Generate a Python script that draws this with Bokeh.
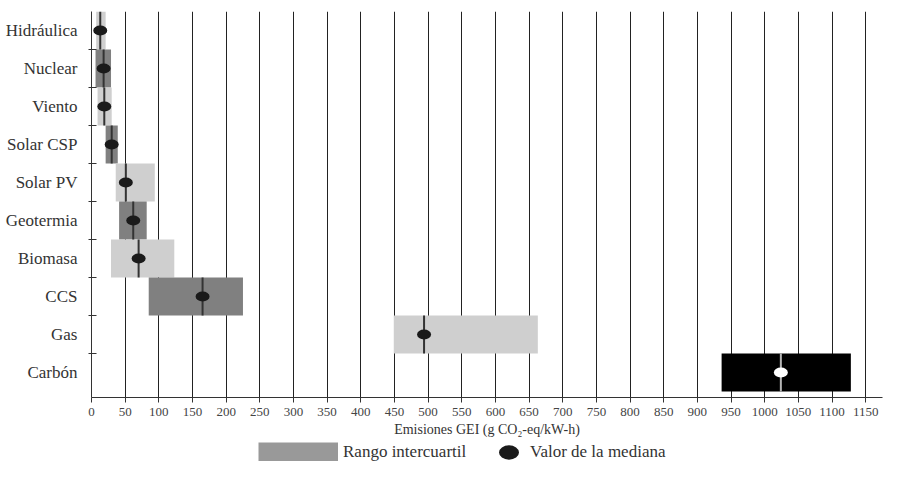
from bokeh.plotting import figure
from bokeh.layouts import column, row
from bokeh.models import (Range1d, FixedTicker, Legend, LegendItem,
                          ColumnDataSource)
from bokeh.embed import file_html
from bokeh.resources import INLINE

# ---- data ----
categories = ["Hidráulica", "Nuclear", "Viento", "Solar CSP", "Solar PV",
              "Geotermia", "Biomasa", "CCS", "Gas", "Carbón"]
q1 = [7, 6, 9, 21, 36, 41, 29, 85, 449, 936]
q3 = [21, 29, 30, 39, 94, 82, 123, 225, 663, 1128]
medians = [13, 18, 19, 30, 51, 62, 70, 165, 494, 1024]
x_ticks = list(range(0, 1151, 50))
x_title = "Emisiones GEI (g CO₂-eq/kW-h)"
legend_labels = ["Rango intercuartil", "Valor de la mediana"]

# ---- styles ----
bar_colors = ["#cfcfcf", "#808080", "#cfcfcf", "#808080", "#cfcfcf",
              "#808080", "#cfcfcf", "#808080", "#cfcfcf", "#000000"]
dot_colors = ["#1a1a1a"] * 9 + ["#ffffff"]
mline_colors = ["#333333"] * 9 + ["#b5b5b5"]
FONT = "Liberation Serif"

n = len(categories)
bottoms = [n - 1 - i for i in range(n)]
tops = [b + 1 for b in bottoms]
mids = [b + 0.5 for b in bottoms]
boundaries = list(range(1, n))

src = ColumnDataSource(dict(cat=categories, q1=q1, q3=q3, med=medians,
                            y0=bottoms, y1=tops, ym=mids,
                            bar=bar_colors, dot=dot_colors, ml=mline_colors))

p = figure(width=883, height=442, output_backend="svg", toolbar_location=None,
           x_range=Range1d(0, 1175), y_range=Range1d(-0.157, n),
           min_border_left=91, min_border_right=1, min_border_top=11,
           min_border_bottom=45)
p.outline_line_color = None

p.quad(left="q1", right="q3", bottom="y0", top="y1", fill_color="bar",
       line_color=None, source=src)
p.segment(x0="med", y0="y0", x1="med", y1="y1", line_color="ml",
          line_width=2, source=src)
p.ellipse(x="med", y="ym", width=14, height=10, width_units="screen",
          height_units="screen", fill_color="dot", line_color=None,
          source=src)

# x axis
xa = p.xaxis[0]
xa.ticker = FixedTicker(ticks=x_ticks)
xa.axis_label = x_title
xa.axis_label_text_font = FONT
xa.axis_label_text_font_style = "normal"
xa.axis_label_text_font_size = "14px"
xa.axis_label_text_color = "#333333"
xa.axis_label_standoff = 3
xa.major_label_text_font = FONT
xa.major_label_text_font_size = "13px"
xa.major_label_text_color = "#444444"
xa.major_label_standoff = 5
xa.major_tick_out = 5
xa.major_tick_in = 0
xa.minor_tick_line_color = None
xa.axis_line_color = "#333333"
xa.major_tick_line_color = "#333333"

# y axis: labels at row centres, small ticks at row boundaries
ya = p.yaxis[0]
ya.ticker = FixedTicker(ticks=mids, minor_ticks=boundaries)
ya.major_label_overrides = {m: c for m, c in zip(mids, categories)}
ya.major_label_text_font = FONT
ya.major_label_text_font_size = "17px"
ya.major_label_text_color = "#333333"
ya.major_label_standoff = 11
ya.major_tick_line_color = None
ya.major_tick_in = 0
ya.major_tick_out = 0
ya.minor_tick_line_color = "#333333"
ya.minor_tick_in = 5
ya.minor_tick_out = 3
ya.axis_line_color = "#333333"

p.xgrid.grid_line_color = "#222222"
p.xgrid.grid_line_width = 1
p.ygrid.grid_line_color = None

# ---- legend strip (two small panels side by side) ----
common = dict(padding=0, margin=0, border_line_color=None,
              background_fill_alpha=0, label_text_font=FONT,
              label_text_font_size="17px", label_text_color="#333333",
              orientation="horizontal", location="left")


def strip(width, left):
    f = figure(width=width, height=19, output_backend="svg",
               toolbar_location=None, x_range=Range1d(0, 1),
               y_range=Range1d(0, 1), min_border_left=left,
               min_border_right=0, min_border_top=0, min_border_bottom=0,
               x_axis_location=None, y_axis_location=None)
    f.outline_line_color = None
    f.xgrid.visible = False
    f.ygrid.visible = False
    return f


lga = strip(496, 258)
# legend proxies share the chart data; they fall outside the strip's ranges
swatch = lga.line(x="med", y="ym", line_color="#999999", line_width=19,
                  source=src)
lga.add_layout(Legend(items=[LegendItem(label=legend_labels[0],
                                        renderers=[swatch], index=0)],
                      glyph_width=80, glyph_height=19, label_standoff=5,
                      **common))

lgb = strip(387, 0)
proxy_dot = lgb.ellipse(x="med", y="ym", width=14, height=10,
                        width_units="screen", height_units="screen",
                        fill_color="dot", line_color=None, source=src)
lgb.add_layout(Legend(items=[LegendItem(label=legend_labels[1],
                                        renderers=[proxy_dot], index=0)],
                      glyph_width=25, glyph_height=25, label_standoff=9,
                      **common))

open("out.html", "w").write(file_html(column(p, row(lga, lgb)), INLINE))
